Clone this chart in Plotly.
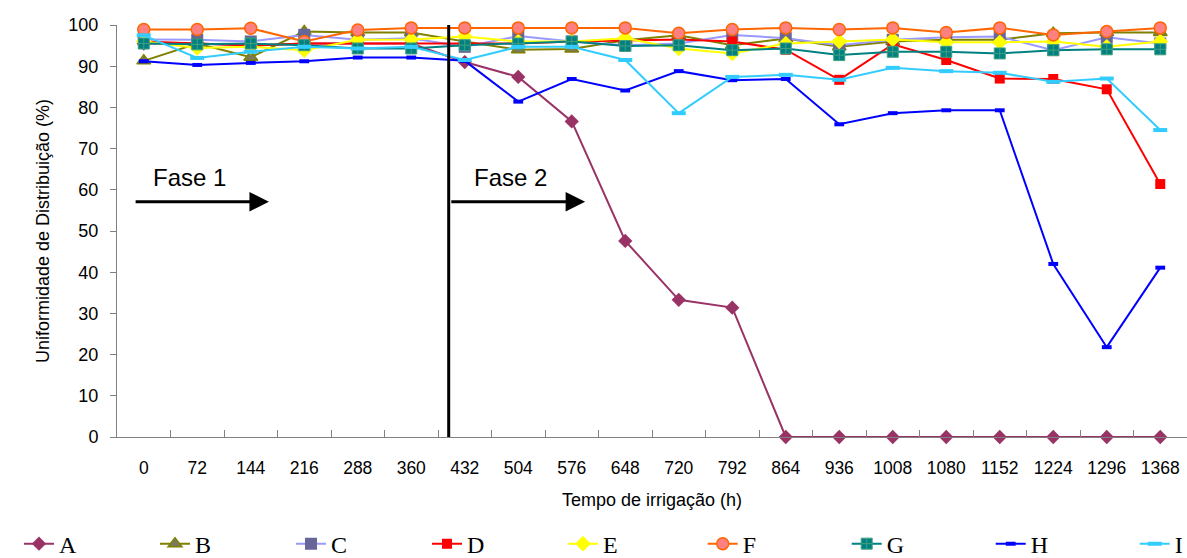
import plotly.graph_objects as go

hours = ['0', '72', '144', '216', '288', '360', '432', '504', '576', '648',
         '720', '792', '864', '936', '1008', '1080', '1152', '1224', '1296', '1368']

A = [95.5, 95.5, 95.0, 95.5, 95.5, 95.5, 91.0, 87.4, 76.6, 47.6, 33.3, 31.4, 0, 0, 0, 0, 0, 0, 0, 0]
B = [91.3, 95.5, 92.2, 98.4, 98.2, 98.2, 96.0, 94.0, 94.2, 96.3, 97.5, 95.1, 96.7, 94.7, 96.0, 96.4, 96.4, 98.0, 98.2, 98.2]
C = [96.5, 96.4, 96.0, 97.6, 96.4, 96.8, 94.7, 97.3, 96.0, 95.1, 95.5, 97.6, 96.8, 95.1, 96.4, 97.0, 97.2, 93.9, 97.0, 95.5]
D = [96.0, 95.5, 95.0, 95.5, 95.5, 95.5, 95.5, 95.5, 96.0, 96.3, 96.5, 96.0, 94.0, 86.7, 95.3, 91.5, 87.0, 86.9, 84.4, 61.4]
E = [96.0, 94.4, 94.7, 93.9, 96.4, 96.5, 97.2, 96.0, 96.0, 96.8, 94.3, 93.1, 95.5, 96.0, 96.5, 95.8, 95.8, 96.0, 94.7, 96.0]
F = [98.9, 98.9, 99.2, 96.0, 98.8, 99.3, 99.3, 99.3, 99.3, 99.3, 98.0, 98.9, 99.3, 98.9, 99.3, 98.2, 99.3, 97.6, 98.4, 99.3]
G = [95.5, 95.3, 95.5, 95.1, 94.3, 94.3, 95.1, 95.5, 96.0, 94.9, 95.1, 93.9, 94.3, 92.7, 93.5, 93.5, 93.1, 93.9, 94.1, 94.1]
H = [91.2, 90.3, 90.8, 91.2, 92.1, 92.1, 91.3, 81.4, 86.9, 84.1, 88.8, 86.6, 86.9, 75.9, 78.6, 79.3, 79.3, 42.0, 21.8, 41.1]
I = [97.5, 92.0, 93.5, 94.7, 94.3, 94.7, 91.5, 94.7, 94.7, 91.5, 78.6, 87.4, 87.9, 86.7, 89.6, 88.8, 88.4, 86.2, 87.0, 74.5]

series = [
    ('A', A, dict(line='#993366', symbol='diamond', fill='#993366', edge='#993366', size=11, ew=0), 'legend'),
    ('B', B, dict(line='#808000', symbol='triangle-up', fill='#7a7a5a', edge='#808000', size=12, ew=1.5), 'legend'),
    ('C', C, dict(line='#9999FF', symbol='square', fill='#666699', edge='#666699', size=12, ew=0), 'legend'),
    ('D', D, dict(line='#FF0000', symbol='square', fill='#FF0000', edge='#FF0000', size=10, ew=0), 'legend'),
    ('E', E, dict(line='#FFFF00', symbol='diamond', fill='#FFFF00', edge='#FFFF00', size=12, ew=0), 'legend'),
    ('F', F, dict(line='#FF6600', symbol='circle', fill='#FF8080', edge='#FF6600', size=12, ew=1.5), 'legend2'),
    ('G', G, dict(line='#008080', symbol='square-cross', fill='#008080', edge='#40A080', size=11, ew=1), 'legend2'),
    ('H', H, dict(line='#0000FF', symbol='line-ew', fill='#0000FF', edge='#0000FF', size=7, ew=4), 'legend2'),
    ('I', I, dict(line='#33CCFF', symbol='line-ew', fill='#33CCFF', edge='#33CCFF', size=10, ew=4), 'legend2'),
]

fig = go.Figure()
for name, vals, st, lg in series:
    fig.add_trace(go.Scatter(
        x=hours, y=vals, name=name, mode='lines+markers', legend=lg,
        line=dict(color=st['line'], width=2),
        marker=dict(symbol=st['symbol'], color=st['fill'], size=st['size'],
                    line=dict(color=st['edge'], width=st['ew'])),
        cliponaxis=False,
    ))

# phase divider
fig.add_shape(type='line', x0=5.7, x1=5.7, y0=0, y1=100.7, xref='x', yref='y',
              line=dict(color='black', width=3))

for label, tail, head, tx in [('Fase 1', -0.18, 2.34, 0.86), ('Fase 2', 5.72, 8.25, 6.86)]:
    fig.add_annotation(x=head, y=57.1, ax=tail, ay=57.1, xref='x', yref='y',
                       axref='x', ayref='y', showarrow=True, arrowhead=2,
                       arrowsize=1.3, arrowwidth=3, arrowcolor='black', text='')
    fig.add_annotation(x=tx, y=62.9, xref='x', yref='y', text=label, showarrow=False,
                       font=dict(family='Liberation Sans, Arial', size=24, color='black'))

legend_common = dict(orientation='h', xref='container', yref='container', y=0.025,
                     xanchor='left', yanchor='middle', entrywidthmode='pixels',
                     font=dict(family='Liberation Serif, Times New Roman', size=24, color='black'),
                     bgcolor='rgba(0,0,0,0)')

fig.update_layout(
    width=1187, height=558,
    margin=dict(l=117, r=0, t=25, b=121, autoexpand=False),
    paper_bgcolor='white', plot_bgcolor='white',
    font=dict(family='Liberation Sans, Arial', size=18, color='black'),
    showlegend=True,
    legend=dict(x=0.016, entrywidth=91, **legend_common),
    legend2=dict(x=0.592, entrywidth=99, **legend_common),
    xaxis=dict(type='category', range=[-0.5, 19.5], showline=True, linecolor='#808080',
               linewidth=1, ticks='inside', tickson='boundaries', ticklen=7,
               tickcolor='#808080', showgrid=False, zeroline=False, automargin=False,
               ticklabelstandoff=15,
               title=dict(text='Tempo de irrigação (h)', font=dict(size=18), standoff=16),
               tickfont=dict(size=17.5)),
    yaxis=dict(range=[0, 100], dtick=10, showline=True, linecolor='#808080', linewidth=1,
               ticks='outside', ticklen=6, tickcolor='#808080', showgrid=False,
               zeroline=False, tickfont=dict(size=18), automargin=False,
               ticklabelstandoff=8,
               title=dict(text='Uniformidade de Distribuição (%)', font=dict(size=18), standoff=14)),
)

fig.write_html('out.html', config={'displayModeBar': False},
               post_script="document.body.style.margin='0px';")
